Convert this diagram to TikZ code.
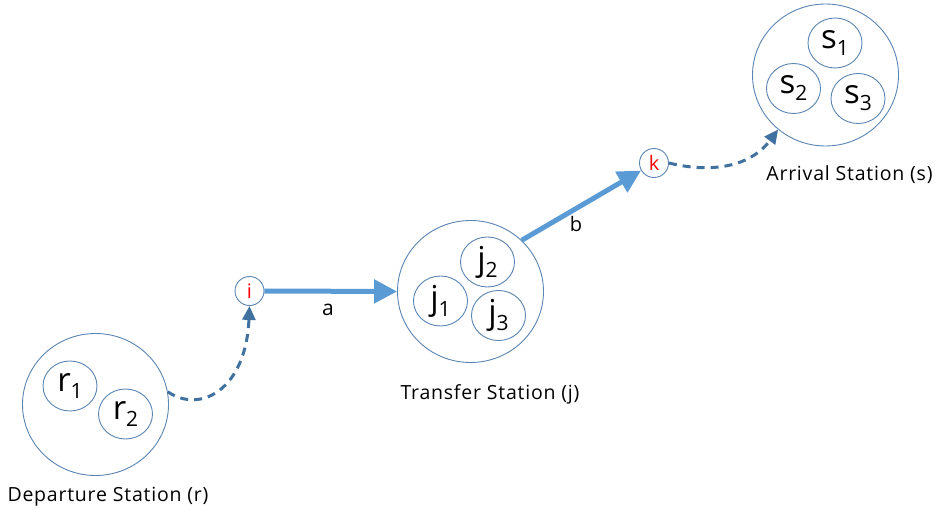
\documentclass[tikz,border=0pt]{standalone}
\usepackage{fontspec}
\setmainfont{Open Sans}[LetterSpace=4]
\usetikzlibrary{arrows.meta,shapes.geometric}
\definecolor{RingBlue}{HTML}{5A84B2}
\definecolor{FlowBlue}{HTML}{5B9BD5}
\definecolor{WalkBlue}{HTML}{41729F}
\definecolor{PointRed}{HTML}{FF0000}

% station member with a lowered index
\newcommand{\member}[2]{{\fontsize{33}{33}\selectfont #1}\raisebox{-7pt}{\fontsize{21}{21}\selectfont #2}}

\begin{document}
\begin{tikzpicture}[x=1pt, y=-1pt,
    station/.style={ellipse, draw=RingBlue, line width=0.9pt, inner sep=0pt,
                    minimum width=146pt, minimum height=142pt},
    platform/.style={ellipse, draw=RingBlue, line width=0.9pt, inner sep=0pt,
                     minimum width=54pt, minimum height=50pt},
    stop/.style={circle, draw=RingBlue, line width=0.9pt, inner sep=0pt,
                 minimum size=29pt, text=PointRed, font=\fontsize{20}{20}\selectfont},
    caption/.style={font=\fontsize{19.5}{21}\selectfont},
    ride/.style={-{Triangle[length=23pt, width=23pt]}, FlowBlue, line width=5pt},
    walk/.style={-{Triangle[length=14pt, width=13pt]}, WalkBlue, line width=3pt,
                 dash pattern=on 8pt off 6pt}]
    \useasboundingbox (0,0) rectangle (936,510);

    % Departure station
    \node[station] (dep) at (95.5,404.5) {};
    \node[platform] (r1) at (70,386) {\member{r}{1}};
    \node[platform] (r2) at (125.5,414) {\member{r}{2}};
    \node[caption] (deplabel) at (108,497) {Departure Station (r)};

    % Transfer station
    \node[station] (trans) at (470.5,291.5) {};
    \node[platform] (j1) at (440.5,301) {\member{j}{1}};
    \node[platform] (j2) at (487.5,262) {\member{j}{2}};
    \node[platform] (j3) at (498.5,315.5) {\member{j}{3}};
    \node[caption] (translabel) at (490,394.5) {Transfer Station (j)};

    % Arrival station
    \node[station] (arr) at (825.5,75) {};
    \node[platform] (s1) at (835,43) {\member{s}{1}};
    \node[platform] (s2) at (793.5,88.5) {\member{s}{2}};
    \node[platform] (s3) at (858,98.5) {\member{s}{3}};
    \node[caption] (arrlabel) at (849.5,175) {Arrival Station (s)};

    % Boarding and alighting stops
    \node[stop] (i) at (249.5,291) {i};
    \node[stop] (k) at (654,163) {k};

    % Walking legs
    \draw[walk] (dep.10) .. controls (200,414) and (246,390) .. (i.south);
    \draw[walk] (k.east) .. controls (705,172) and (748,170) .. (arr.229);

    % Riding legs
    \draw[ride] (i.east) -- (trans.west);
    \draw[ride] (trans.45) -- (k);
    \node[font=\fontsize{21}{21}\selectfont] (a) at (328,310) {a};
    \node[font=\fontsize{20}{20}\selectfont] (b) at (576,224.5) {b};
\end{tikzpicture}
\end{document}
